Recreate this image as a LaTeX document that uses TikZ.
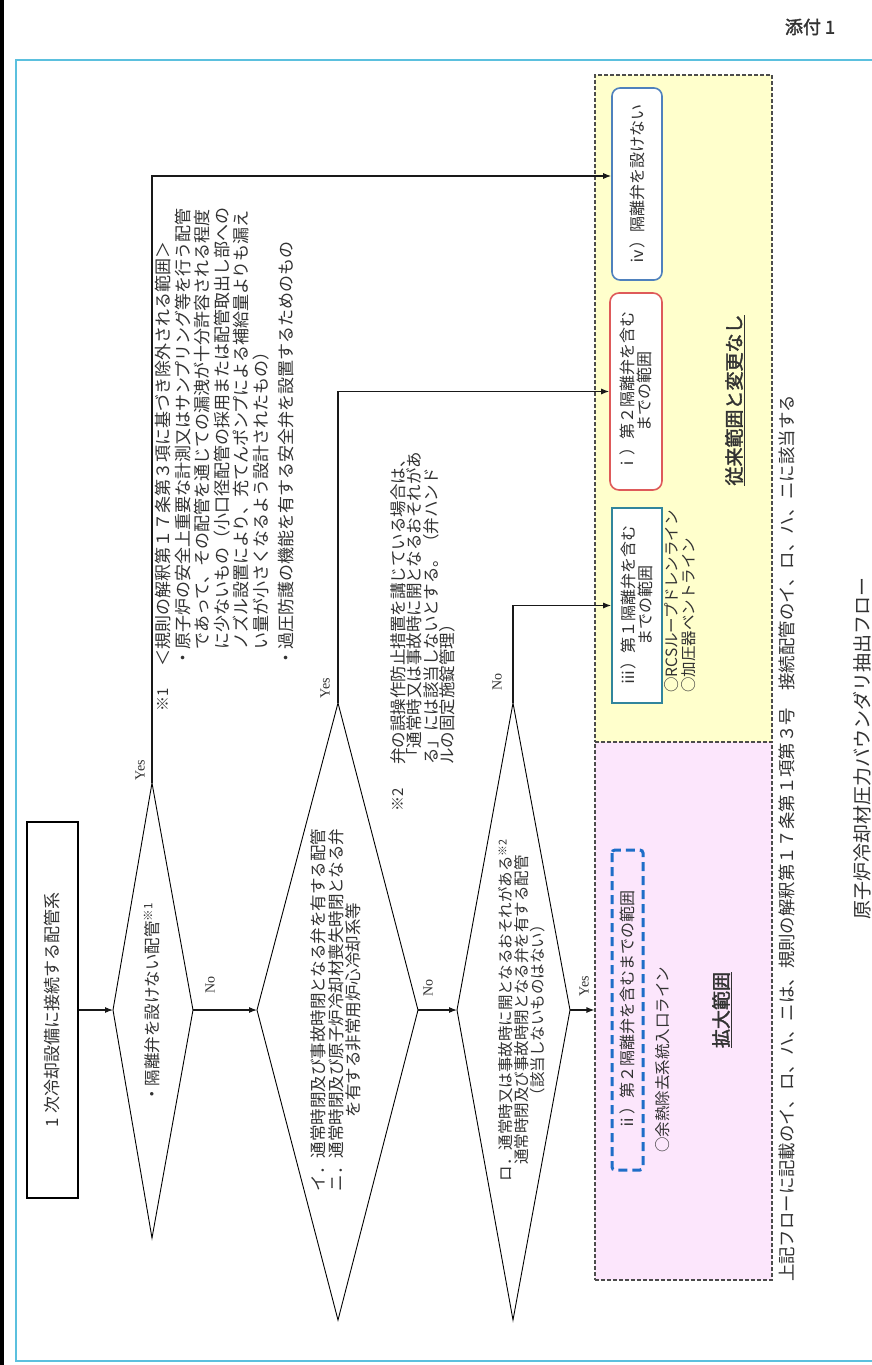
\documentclass[tikz,border=0pt]{standalone}
\usepackage{fontspec}
\setmainfont{Noto Sans CJK JP}[AutoFakeBold=2]
\newfontfamily\latfont{Liberation Serif}
\usetikzlibrary{arrows.meta}
\definecolor{cyanframe}{RGB}{91,192,222}
\definecolor{ybg}{RGB}{255,255,204}
\definecolor{pbg}{RGB}{252,230,252}
\definecolor{bluebox}{RGB}{79,129,189}
\definecolor{redbox}{RGB}{222,90,90}
\definecolor{tealbox}{RGB}{49,133,156}
\definecolor{dashblue}{RGB}{30,110,200}
\definecolor{txtc}{RGB}{50,50,50}
\begin{document}
\begin{tikzpicture}[x=1pt,y=1pt,
  every node/.style={inner sep=0pt, text=txtc},
  rt/.style={rotate=90, font=\fontsize{16.5}{17.5}\selectfont},
  lab/.style={rotate=90, font=\latfont\fontsize{14}{14}\selectfont},
  dia/.style={draw=black, line width=0.9pt},
  conn/.style={draw=black!90, line width=1.1pt},
  arr/.style={conn, -{Latex[length=8pt,width=6pt]}},
  region/.style={draw=black!70, line width=1.1pt, dash pattern=on 4pt off 2pt},
  rbox/.style={rotate=90, fill=white, line width=1.6pt, align=center, font=\fontsize{16}{17}\selectfont},
]
\useasboundingbox (0,0) rectangle (872,-1365);
\fill[white] (0,0) rectangle (872,-1365);
\fill[black] (0,0) rectangle (3.5,-1365);
\draw[cyanframe, line width=2.2pt] (16,-60) rectangle (905,-1361);
\node[font=\fontsize{18}{18}\selectfont\bfseries] (att) at (810,-27) {添付 1};

% regions
\node[region, fill=ybg, minimum width=177pt, minimum height=667pt] (yel) at (683.5,-408.5) {};
\node[region, fill=pbg, minimum width=177pt, minimum height=538pt] (pnk) at (683.5,-1011) {};

% start box
\node[draw=black, line width=1.2pt, rotate=90, minimum width=376pt, minimum height=51pt,
      font=\fontsize{17}{17}\selectfont] (start) at (52.5,-1010) {1 次冷却設備に接続する配管系};

% diamonds
\coordinate (d1n) at (152,-783);  \coordinate (d1s) at (152,-1238);
\coordinate (d1w) at (113,-1010); \coordinate (d1e) at (193,-1010);
\coordinate (d2n) at (338,-703);  \coordinate (d2s) at (338,-1320);
\coordinate (d2w) at (257,-1010); \coordinate (d2e) at (418,-1010);
\coordinate (d3n) at (513,-703);  \coordinate (d3s) at (513,-1320);
\coordinate (d3w) at (457,-1010); \coordinate (d3e) at (570,-1010);
\draw[dia] (d1n) -- (d1e) -- (d1s) -- (d1w) -- cycle;
\draw[dia] (d2n) -- (d2e) -- (d2s) -- (d2w) -- cycle;
\draw[dia] (d3n) -- (d3e) -- (d3s) -- (d3w) -- cycle;

\node[rt] (t1) at (152,-1003) {・隔離弁を設けない配管\textsuperscript{※1}};
\node[rt, align=center] (t2) at (336,-1010) {イ．通常時閉及び事故時閉となる弁を有する配管\\ニ．通常時閉及び原子炉冷却材喪失時閉となる弁\\を有する非常用炉心冷却系等};
\node[rt, align=center, font=\fontsize{15.5}{16}\selectfont] (t3) at (522,-1010) {ロ．通常時又は事故時に開となるおそれがある\textsuperscript{※2}\\通常時閉及び事故時閉となる弁を有する配管\\（該当しないものはない）};

% notes
\node[rt, font=\fontsize{15}{15}\selectfont] (n1m) at (163,-700) {※1};
\node[rt, anchor=north west, align=left, font=\fontsize{17}{19.5}\selectfont] (n1) at (155,-667)
 {＜規則の解釈第１７条第３項に基づき除外される範囲＞\\
  ・原子炉の安全上重要な計測又はサンプリング等を行う配管\\
  　であって、その配管を通じての漏洩が十分許容される程度\\
  　に少ないもの（小口径配管の採用または配管取出し部への\\
  　ノズル設置により、充てんポンプによる補給量よりも漏え\\
  　い量が小さくなるよう設計されたもの）\\[6pt]
  ・過圧防護の機能を有する安全弁を設置するためのもの};
\node[rt, font=\fontsize{15}{15}\selectfont] (n2m) at (398,-800) {※2};
\node[rt, anchor=north west, align=left, font=\fontsize{16.5}{16.5}\selectfont] (n2) at (390,-765)
 {弁の誤操作防止措置を講じている場合は、\\
  「通常時又は事故時に開となるおそれがあ\\
  る」には該当しないとする。（弁ハンド\\
  ルの固定施錠管理）};

% result boxes
\node[rbox, draw=bluebox, rounded corners=8pt, minimum width=192pt, minimum height=50pt] (b4) at (637,-184) {ⅳ）隔離弁を設けない};
\node[rbox, draw=redbox, rounded corners=9pt, minimum width=197pt, minimum height=52pt] (b1) at (636,-391.5) {ⅰ）第２隔離弁を含む\\までの範囲};
\node[rbox, draw=tealbox, minimum width=195pt, minimum height=50pt] (b3) at (637,-605.5) {ⅲ）第１隔離弁を含む\\までの範囲};
\node[rotate=90, draw=dashblue, dash pattern=on 9pt off 5pt, line width=3pt, rounded corners=3pt,
      minimum width=320pt, minimum height=31pt, font=\fontsize{16}{17}\selectfont] (b2) at (627.5,-1010) {ⅱ）第２隔離弁を含むまでの範囲};

\node[rt, anchor=west, align=left, font=\fontsize{15.5}{17}\selectfont] (rcs) at (680,-693) {○RCSループドレンライン\\○加圧器ベントライン};
\node[rt, font=\fontsize{19}{20}\selectfont\bfseries] (conv) at (735,-400) {\underline{従来範囲と変更なし}};
\node[rt, anchor=west, font=\fontsize{15.5}{17}\selectfont] (rhr) at (663,-1153) {○余熱除去系統入口ライン};
\node[rt, font=\fontsize{19}{20}\selectfont\bfseries] (expd) at (722,-1010) {\underline{拡大範囲}};

\node[rt, anchor=west, font=\fontsize{17.4}{18}\selectfont] (foot) at (787,-1282) {上記フローに記載のイ、ロ、ハ、ニは、規則の解釈第１７条第１項第３号　接続配管のイ、ロ、ハ、ニに該当する};
\node[rt, font=\fontsize{19}{20}\selectfont] (cap) at (862,-748) {原子炉冷却材圧力バウンダリ抽出フロー};

% labels
\node[lab] (yes1) at (140,-770) {Yes};
\node[lab] (no1) at (210,-985) {No};
\node[lab] (yes2) at (325,-688) {Yes};
\node[lab] (no2) at (428,-988) {No};
\node[lab] (no3) at (497,-682) {No};
\node[lab] (yes3) at (584,-986) {Yes};

% connectors
\coordinate (y1) at (152,-176);
\draw[arr] (start.south) -- (d1w);
\draw[arr] (d1e) -- (d2w);
\draw[arr] (d2e) -- (d3w);
\draw[arr] (d3e) -- (d3e -| pnk.west);
\draw[arr] (d1n) -- (y1) -- (y1 -| b4.north);
\draw[arr] (d2n) |- (b1.north);
\draw[arr] (d3n) |- (b3.north);
\end{tikzpicture}
\end{document}
